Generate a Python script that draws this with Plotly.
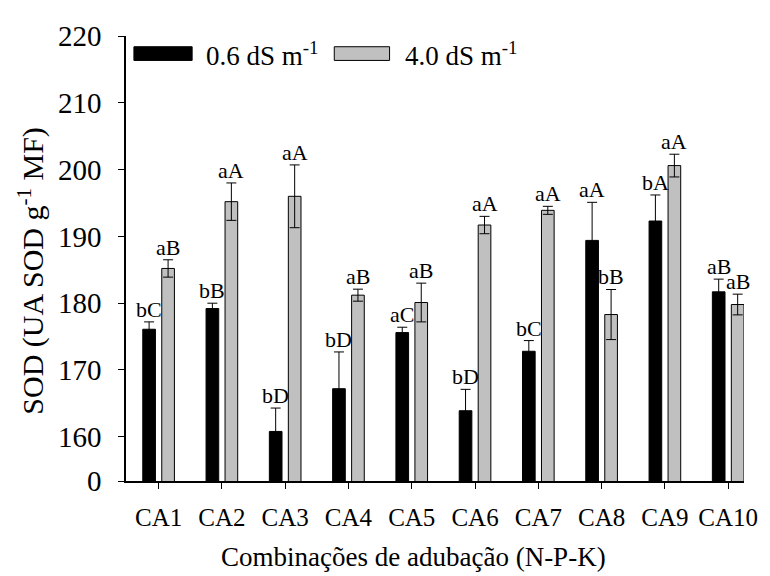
import plotly.graph_objects as go

categories = ["CA1", "CA2", "CA3", "CA4", "CA5", "CA6", "CA7", "CA8", "CA9", "CA10"]
series_names = ["0.6 dS m<sup>-1</sup>", "4.0 dS m<sup>-1</sup>"]
low_values = [176.1, 179.2, 160.8, 167.2, 175.6, 163.9, 172.8, 189.4, 192.3, 181.7]
low_errors = [1.1, 0.8, 3.5, 5.5, 0.8, 3.2, 1.6, 5.7, 3.9, 1.9]
high_values = [185.2, 195.2, 196.0, 181.2, 180.1, 191.7, 193.9, 178.3, 200.6, 179.8]
high_errors = [1.3, 2.8, 4.7, 0.9, 2.9, 1.3, 0.6, 3.75, 1.7, 1.55]
low_letters = ["bC", "bB", "bD", "bD", "aC", "bD", "bC", "aA", "bA", "aB"]
high_letters = ["aB", "aA", "aA", "aB", "aB", "aA", "aA", "bB", "aA", "aB"]
y_tick_values = [160, 170, 180, 190, 200, 210, 220]
x_title = "Combinações de adubação (N-P-K)"
y_title = "SOD (UA SOD g<sup>-1</sup> MF)"

FONT = "Times New Roman, Liberation Serif, serif"
BREAK = 153.38  # where the "0" of the broken axis sits
colors = ["#000000", "#c0c0c0"]
offsets = [-0.25, 0.05]
width = 0.2

x_idx = list(range(len(categories)))
fig = go.Figure()
for vals, errs, col, off, name in zip([low_values, high_values], [low_errors, high_errors],
                                       colors, offsets, series_names):
    fig.add_trace(go.Bar(
        x=x_idx, y=vals, base=0, width=width, offset=off, name=name,
        marker=dict(color=col, line=dict(color="black", width=1)),
        error_y=dict(type="data", array=errs, color="black", thickness=1, width=5),
        showlegend=False,
    ))

annotations = []
for vals, errs, letters, off in zip([low_values, high_values], [low_errors, high_errors],
                                     [low_letters, high_letters], offsets):
    for i, (v, e, t) in enumerate(zip(vals, errs, letters)):
        annotations.append(dict(x=i + off + width / 2, y=v + e, text=t, xref="x", yref="y",
                                showarrow=False, yanchor="bottom", yshift=-2,
                                font=dict(family=FONT, size=22, color="black")))

# manual legend
leg_y = 0.9605
leg_items = [(0.0128, 0.107, 0.126), (0.337, 0.4265, 0.448)]
shapes = []
for (x0, x1, xt), col, name in zip(leg_items, colors, series_names):
    shapes.append(dict(type="rect", xref="paper", yref="paper", x0=x0, x1=x1,
                       y0=leg_y - 0.0154, y1=leg_y + 0.0154,
                       fillcolor=col, line=dict(color="black", width=1)))
    annotations.append(dict(x=xt, y=leg_y, xref="paper", yref="paper", text=name,
                            showarrow=False, xanchor="left", yanchor="middle",
                            font=dict(family=FONT, size=27, color="black")))

# axis titles
annotations.append(dict(x=0.466, y=-0.171, xref="paper", yref="paper", text=x_title,
                        showarrow=False, xanchor="center", yanchor="middle",
                        font=dict(family=FONT, size=27, color="black")))
annotations.append(dict(x=-0.1534, y=0.473, xref="paper", yref="paper", text=y_title,
                        showarrow=False, xanchor="center", yanchor="middle", textangle=-90,
                        font=dict(family=FONT, size=30, color="black")))

# the page body adds an 8px offset, so the figure is 8px smaller and shifted
fig.update_layout(
    width=762, height=568,
    margin=dict(l=118, r=18, t=17, b=95),
    plot_bgcolor="white", paper_bgcolor="white",
    font=dict(family=FONT, size=22, color="black"),
    annotations=annotations, shapes=shapes,
    xaxis=dict(range=[-0.515, 9.25], tickvals=x_idx, ticktext=categories,
               showline=True, linecolor="black", linewidth=1.5, ticks="outside",
               ticklen=6, tickcolor="black", showgrid=False, zeroline=False,
               tickfont=dict(family=FONT, size=25), ticklabelstandoff=7),
    yaxis=dict(range=[BREAK, 220], tickvals=[BREAK] + y_tick_values,
               ticktext=["0"] + [str(v) for v in y_tick_values],
               showline=True, linecolor="black", linewidth=1.5, ticks="outside",
               ticklen=6, tickcolor="black", showgrid=False, zeroline=False,
               tickfont=dict(family=FONT, size=29), ticklabelstandoff=11),
)

fig.write_html("out.html")
